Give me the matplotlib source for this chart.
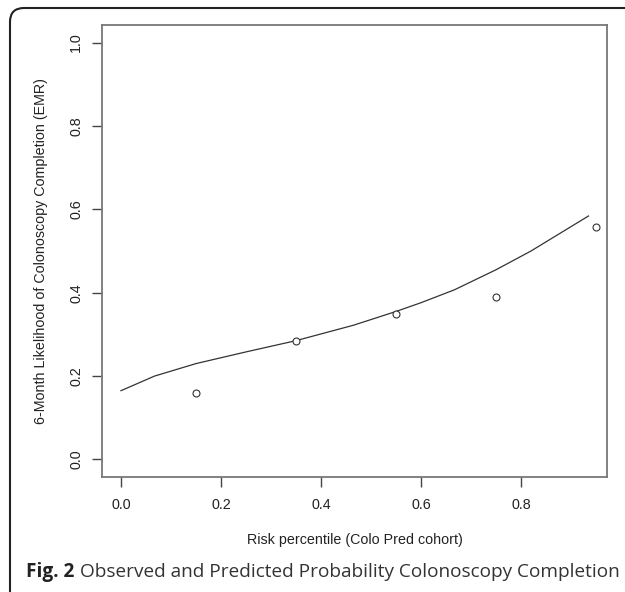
import matplotlib
matplotlib.use("Agg")
import matplotlib.pyplot as plt
from matplotlib.patches import FancyBboxPatch
from matplotlib.transforms import IdentityTransform

# observed proportions by risk decile group
obs_x = [0.15, 0.35, 0.55, 0.75, 0.95]
obs_y = [0.16, 0.285, 0.35, 0.39, 0.558]

# predicted curve
pred_x = [0.0, 0.067, 0.15, 0.25, 0.35, 0.465, 0.55, 0.6, 0.667, 0.75, 0.82, 0.935]
pred_y = [0.165, 0.2, 0.23, 0.258, 0.285, 0.322, 0.355, 0.376, 0.407, 0.455, 0.5, 0.584]

xticks = [0.0, 0.2, 0.4, 0.6, 0.8]
yticks = [0.0, 0.2, 0.4, 0.6, 0.8, 1.0]

W, H = 625, 592
fig = plt.figure(figsize=(W / 100, H / 100), dpi=100)
ax = fig.add_axes([102 / W, 1 - 477 / H, 505 / W, 452 / H])

ax.plot(pred_x, pred_y, color="#333333", lw=0.9)
ax.plot(obs_x, obs_y, "o", mfc="white", mec="#333333", ms=5, mew=0.8)

ax.set_xlim(-0.038, 0.972)
ax.set_ylim(-0.042, 1.042)
ax.set_xticks(xticks)
ax.set_yticks(yticks)
ax.set_xticklabels([f"{t:.1f}" for t in xticks], fontsize=10.3, family="Liberation Sans", color="#222222")
ax.set_yticklabels([f"{t:.1f}" for t in yticks], fontsize=10.3, family="Liberation Sans", color="#222222",
                   rotation=90, va="center")
ax.tick_params(axis="x", length=7, width=1, color="#444444", pad=8)
ax.tick_params(axis="y", length=7, width=1, color="#444444", pad=6.5)
for s in ax.spines.values():
    s.set_color("#777777")
    s.set_linewidth(1.3)

ax.set_xlabel("Risk percentile (Colo Pred cohort)", fontsize=10.3, family="Liberation Sans",
              color="#222222", va="center")
ax.xaxis.set_label_coords(0.5, (477 - 540) / 452)
ax.set_ylabel("6-Month Likelihood of Colonoscopy Completion (EMR)", fontsize=10.3,
              family="Liberation Sans", color="#222222", va="center")
ax.yaxis.set_label_coords((41 - 102) / 505, 0.5)

# border round the figure
border = FancyBboxPatch((10, -20), 640, H - 8 + 20, boxstyle="round,pad=0,rounding_size=14",
                        transform=IdentityTransform(), fill=False, ec="#222222", lw=1.5)
fig.patches.append(border)

# caption
t1 = fig.text(26 / W, 1 - 572 / H, "Fig. 2", fontsize=13.7, family="Open Sans", weight="bold",
              color="#222222", va="center")
fig.canvas.draw()
bb = t1.get_window_extent()
fig.text((bb.x1 + 6) / W, 1 - 572 / H, "Observed and Predicted Probability Colonoscopy Completion",
         fontsize=13.7, family="Open Sans", color="#333333", va="center")

fig.savefig("out.png", dpi=100)
